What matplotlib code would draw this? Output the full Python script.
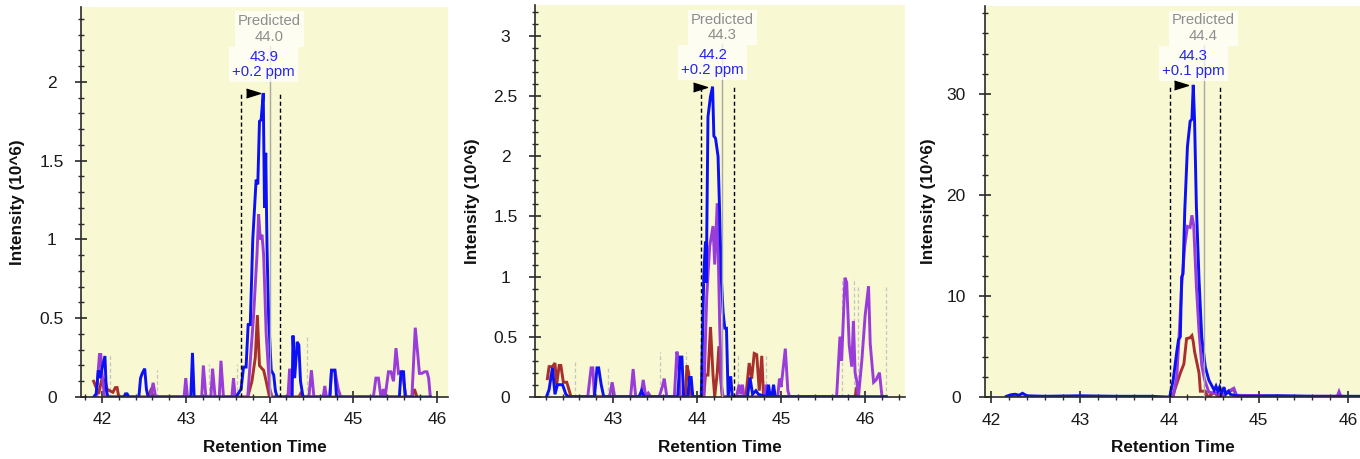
import matplotlib
matplotlib.use('Agg')
import matplotlib.pyplot as plt
from matplotlib.ticker import MultipleLocator
from matplotlib.transforms import blended_transform_factory

plt.rcParams['font.family'] = ['Liberation Sans', 'DejaVu Sans']

# ---------------- data: panel 1 ----------------
p1_blue_x = [41.90, 41.93, 41.956, 41.98, 42.00, 42.035, 42.05, 42.07, 42.26, 42.28, 42.30, 42.32,
             42.44, 42.46, 42.48, 42.51, 42.53, 42.55, 43.06, 43.08, 43.10, 43.60, 43.66, 43.69,
             43.72, 43.745, 43.77, 43.80, 43.84, 43.86, 43.88, 43.90, 43.925, 43.94, 43.955, 43.97,
             43.99, 44.02, 44.05, 44.07, 44.09, 44.27, 44.28, 44.30, 44.33, 44.35, 44.37, 44.40,
             44.72, 44.74, 44.78, 44.80, 45.55, 45.57, 45.60, 45.62, 45.92]
p1_blue_y = [0, 0.02, 0.17, 0.12, 0.18, 0.26, 0.05, 0, 0, 0.02, 0.02, 0,
             0, 0.12, 0.15, 0.18, 0.05, 0, 0, 0.28, 0, 0, 0.05, 0.19,
             0.19, 0.46, 0.46, 1.0, 1.38, 1.35, 1.75, 1.76, 1.93, 1.2, 1.55, 0.95,
             0.5, 0.17, 0.14, 0.04, 0, 0, 0.39, 0.12, 0.35, 0.33, 0.1, 0,
             0, 0.17, 0.17, 0, 0, 0.16, 0.16, 0, 0]
p1_purple_x = [41.93, 41.97, 41.985, 42.0, 42.03, 42.58, 42.61, 42.64, 42.98, 43.0, 43.02, 43.19,
               43.21, 43.24, 43.30, 43.32, 43.35, 43.40, 43.42, 43.45, 43.55, 43.57, 43.59, 43.74,
               43.78, 43.81, 43.85, 43.87, 43.89, 43.91, 43.93, 43.96, 44.0, 44.03, 44.22, 44.24,
               44.26, 44.47, 44.50, 44.53, 44.64, 44.66, 44.68, 44.72, 44.74, 44.78, 44.82, 44.85,
               45.24, 45.27, 45.30, 45.33, 45.36, 45.38, 45.42, 45.45, 45.48, 45.51, 45.54, 45.58,
               45.60, 45.63, 45.70, 45.74, 45.77, 45.79, 45.82, 45.85, 45.88, 45.90, 45.92]
p1_purple_y = [0, 0.27, 0.27, 0.15, 0, 0, 0.09, 0, 0, 0.12, 0, 0,
               0.2, 0, 0, 0.18, 0, 0, 0.23, 0, 0, 0.12, 0, 0,
               0.3, 0.52, 0.9, 1.16, 1.0, 1.03, 0.9, 0.4, 0.06, 0, 0, 0.18,
               0, 0, 0.17, 0, 0, 0.07, 0, 0, 0.17, 0.17, 0.05, 0,
               0, 0.12, 0.12, 0, 0.05, 0, 0.16, 0.16, 0.1, 0.31, 0.15, 0.16,
               0.1, 0, 0, 0.44, 0.27, 0.15, 0.15, 0.16, 0.16, 0.12, 0]
p1_red_x = [41.90, 41.93, 41.96, 42.0, 42.04, 42.06, 42.09, 42.13, 42.16, 42.18, 42.20, 42.55,
            42.58, 42.62, 43.74, 43.79, 43.83, 43.855, 43.88, 43.91, 43.93, 43.96, 44.0, 44.35,
            44.37, 44.39, 45.70, 45.73, 45.76]
p1_red_y = [0.1, 0.06, 0.02, 0.12, 0.1, 0.05, 0.04, 0.03, 0.06, 0.06, 0, 0,
            0.04, 0, 0, 0.1, 0.25, 0.52, 0.2, 0.18, 0.17, 0.1, 0, 0,
            0.02, 0, 0, 0.05, 0]

# ---------------- data: panel 2 ----------------
p2_blue_x = [42.21, 42.24, 42.28, 42.31, 42.34, 42.40, 42.44, 42.47, 42.78, 42.81, 42.83, 42.86,
             42.89, 43.31, 43.34, 43.37, 43.77, 43.80, 43.82, 43.84, 43.89, 43.91, 43.93, 43.95,
             44.05, 44.08, 44.10, 44.11, 44.13, 44.16, 44.185, 44.20, 44.22, 44.25, 44.27, 44.29,
             44.31, 44.33, 44.35, 44.37, 44.40, 44.42, 44.60, 44.63, 44.66, 44.70, 44.73, 44.83,
             44.85, 44.87, 44.89, 44.91, 44.93, 46.25]
p2_blue_y = [0, 0.06, 0.24, 0.02, 0.10, 0.10, 0.02, 0, 0, 0.24, 0.24, 0.10,
             0, 0, 0.05, 0, 0, 0.33, 0.33, 0, 0, 0.16, 0.16, 0,
             0, 1.0, 1.29, 0.95, 2.33, 2.5, 2.58, 2.17, 2.15, 2.0, 1.5, 0.97,
             0.7, 0.57, 0.57, 0, 0.17, 0, 0, 0.16, 0.02, 0.05, 0.02, 0,
             0.1, 0, 0, 0.1, 0, 0]
p2_purple_x = [42.70, 42.74, 42.76, 42.78, 42.96, 42.99, 43.02, 43.21, 43.24, 43.27, 43.33, 43.36,
               43.39, 43.42, 43.45, 43.55, 43.59, 43.61, 43.64, 43.73, 43.76, 43.78, 43.80, 44.08,
               44.115, 44.15, 44.19, 44.21, 44.24, 44.27, 44.29, 44.31, 44.47, 44.50, 44.52, 44.54,
               44.56, 44.80, 44.82, 44.85, 44.96, 44.98, 45.0, 45.05, 45.08, 45.10, 45.66, 45.70,
               45.72, 45.76, 45.78, 45.81, 45.84, 45.86, 45.88, 45.90, 45.92, 45.96, 46.0, 46.04,
               46.06, 46.10, 46.13, 46.17, 46.20, 46.25]
p2_purple_y = [0, 0.24, 0.24, 0, 0, 0.12, 0, 0, 0.23, 0, 0, 0.14,
               0, 0.03, 0, 0, 0.09, 0.15, 0, 0, 0.375, 0.3, 0, 0,
               0.83, 1.25, 1.42, 1.1, 1.61, 0.58, 0.1, 0, 0, 0.1, 0.02, 0.1,
               0, 0, 0.1, 0, 0, 0.15, 0.08, 0.4, 0.05, 0, 0, 0.5,
               0.3, 0.99, 0.95, 0.43, 0.25, 0.63, 0.2, 0.13, 0, 0.3, 0.68, 0.92,
               0.44, 0.12, 0.14, 0.2, 0, 0]
p2_red_x = [42.22, 42.24, 42.28, 42.31, 42.33, 42.36, 42.38, 42.41, 42.45, 42.48, 42.50, 43.86,
            43.88, 43.90, 43.92, 44.08, 44.10, 44.13, 44.16, 44.19, 44.21, 44.24, 44.26, 44.28,
            44.30, 44.58, 44.62, 44.65, 44.68, 44.71, 44.74, 44.77, 44.79, 44.82, 45.88, 45.90,
            45.92]
p2_red_y = [0.15, 0.25, 0.25, 0.28, 0.1, 0.26, 0.26, 0.12, 0.12, 0.05, 0, 0,
            0.26, 0.2, 0, 0, 0.18, 0.18, 0.58, 0.18, 0, 0.2, 0.42, 0.16,
            0, 0, 0.28, 0.15, 0.36, 0.35, 0.05, 0.34, 0.02, 0, 0, 0.08,
            0]

# ---------------- data: panel 3 ----------------
p3_blue_x = [42.17, 42.22, 42.27, 42.31, 42.35, 42.40, 42.60, 43.00, 43.40, 43.80, 44.00, 44.04,
             44.08, 44.10, 44.12, 44.135, 44.15, 44.17, 44.20, 44.23, 44.25, 44.265, 44.28, 44.30,
             44.33, 44.36, 44.40, 44.44, 44.47, 44.50, 44.52, 44.54, 44.56, 44.58, 44.61, 44.63,
             44.66, 44.68, 44.72, 44.80, 45.20, 45.60, 46.00, 46.13]
p3_blue_y = [0.1, 0.25, 0.3, 0.2, 0.4, 0.15, 0.1, 0.15, 0.1, 0.1, 0.0, 1.7,
             4.5, 5.7, 6.0, 11.9, 12.2, 18.5, 24.8, 27.3, 27.5, 30.9, 27.3, 18.9,
             11.6, 6.0, 3.0, 1.7, 1.2, 0.7, 1.1, 0.6, 1.0, 0.4, 1.0, 0.3,
             0.6, 0.3, 0.2, 0.1, 0.15, 0.1, 0.1, 0.1]
p3_purple_x = [42.17, 44.04, 44.08, 44.10, 44.135, 44.17, 44.20, 44.23, 44.25, 44.27, 44.30, 44.33,
               44.36, 44.39, 44.44, 44.60, 44.72, 44.75, 45.50, 45.88, 45.90, 45.92, 46.13]
p3_purple_y = [0, 0, 2.0, 5.0, 11.0, 15.0, 16.9, 16.8, 18.0, 17.0, 11.0, 6.5,
               3.2, 1.8, 0.5, 0.3, 0.9, 0.2, 0.1, 0.1, 0.56, 0.1, 0]
p3_red_x = [42.17, 44.03, 44.12, 44.16, 44.19, 44.23, 44.25, 44.265, 44.28, 44.33, 44.345, 44.40,
            44.43, 44.50, 44.55, 44.72, 44.75, 46.13]
p3_red_y = [0, 0, 2.4, 3.3, 5.8, 5.9, 6.1, 5.5, 4.5, 2.4, 0.6, 0.6,
            0, 0.5, 0, 0.8, 0, 0]

# ---------------- annotations ----------------
predicted_rt = [44.0, 44.3, 44.38]
predicted_txt = ['44.0', '44.3', '44.4']
observed_rt = [43.93, 44.185, 44.265]
observed_txt = ['43.9', '44.2', '44.3']
ppm_txt = ['+0.2 ppm', '+0.2 ppm', '+0.1 ppm']
peak_start = [43.66, 44.045, 44.0]
peak_end = [44.125, 44.44, 44.57]
apex_height = [1.93, 2.58, 30.9]
flag_x = [43.80, 44.04, 44.13]
minor_bounds = [
    [(41.95, 0.27), (42.10, 0.27), (42.66, 0.17), (43.28, 0.21), (43.61, 0.21), (44.45, 0.39)],
    [(42.24, 0.27), (42.55, 0.30), (42.94, 0.24), (43.56, 0.37), (43.87, 0.37), (44.49, 0.35),
     (44.82, 0.36), (45.73, 0.99), (45.87, 0.99), (45.92, 0.92), (46.25, 0.92)],
    [],
]

xlims = [(41.749, 46.131), (42.069, 46.47), (41.933, 46.135)]
ylims = [(0, 2.476), (0, 3.26), (0, 38.7)]
y_major = [0.5, 0.5, 10]
y_minor = [0.1, 0.1, 2]
y_ticklabels = [['0', '0.5', '1', '1.5', '2'],
                ['0', '0.5', '1', '1.5', '2', '2.5', '3'],
                ['0', '10', '20', '30']]

traces = [
    [(p1_red_x, p1_red_y), (p1_purple_x, p1_purple_y), (p1_blue_x, p1_blue_y)],
    [(p2_red_x, p2_red_y), (p2_purple_x, p2_purple_y), (p2_blue_x, p2_blue_y)],
    [(p3_red_x, p3_red_y), (p3_purple_x, p3_purple_y), (p3_blue_x, p3_blue_y)],
]

BLUE = '#0C10F4'
PURPLE = '#9A3CDA'
RED = '#A8302C'
BG = '#F8F8D2'
AXC = '#2a2a2a'
colors = [RED, PURPLE, BLUE]

W, H = 1360, 459
fig = plt.figure(figsize=(W / 100, H / 100), dpi=100)
boxes = [(81, 448, 7, 397), (534.7, 904.7, 5, 396.7), (985.3, 1360, 6, 397.3)]

for i, (l, r, t, b) in enumerate(boxes):
    ax = fig.add_axes([l / W, 1 - b / H, (r - l) / W, (b - t) / H])
    ax.set_facecolor(BG)
    ax.set_xlim(*xlims[i])
    ax.set_ylim(*ylims[i])
    for s in ['top', 'right']:
        ax.spines[s].set_visible(False)
    for s in ['left', 'bottom']:
        ax.spines[s].set_color(AXC)
        ax.spines[s].set_linewidth(1.2)

    # ticks
    ax.xaxis.set_major_locator(MultipleLocator(1))
    ax.xaxis.set_minor_locator(MultipleLocator(0.2))
    ax.yaxis.set_major_locator(MultipleLocator(y_major[i]))
    ax.yaxis.set_minor_locator(MultipleLocator(y_minor[i]))
    ax.tick_params(which='major', direction='inout', length=9, width=1.2, color=AXC,
                   labelsize=12.5, labelcolor='#1a1a1a')
    ax.tick_params(which='minor', direction='inout', length=5, width=1.0, color=AXC)
    ax.tick_params(axis='x', which='major', pad=6.5)
    ax.tick_params(axis='y', which='major', pad=16.5)
    yt = [k * y_major[i] for k in range(len(y_ticklabels[i]))]
    ax.set_yticks(yt)
    ax.set_yticklabels(y_ticklabels[i])
    for lbl in ax.get_yticklabels():
        lbl.set_ha('center')

    ax.set_xlabel('Retention Time', fontsize=12.3, fontweight='bold', color='#111111', va='center')
    ax.xaxis.set_label_coords(0.5, -(448 - b) / (b - t))
    ax.set_ylabel('Intensity (10^6)', fontsize=12.3, fontweight='bold', color='#111111', va='center')
    ylab_x = [18, 473, 928][i]
    ax.yaxis.set_label_coords(-(l - ylab_x) / (r - l), 0.5)

    # faint boundary markers for minor peaks
    for bx, btop in minor_bounds[i]:
        ax.plot([bx, bx], [0, btop], color='#C4C4C4', lw=0.9, ls=(0, (3, 2)), zorder=1)

    # traces
    for (tx, ty), c in zip(traces[i], colors):
        ax.plot(tx, ty, color=c, lw=2.1, solid_joinstyle='miter', zorder=2)

    # integration boundaries
    for bx in (peak_start[i], peak_end[i]):
        ax.plot([bx, bx], [0, apex_height[i]], color='black', lw=1.0, ls=(0, (3, 2)), zorder=3)

    # predicted RT line
    ax.axvline(predicted_rt[i], ymin=0, ymax=0.9, color='#A8A8A8', lw=1.0, zorder=3)

    trans = blended_transform_factory(ax.transData, ax.transAxes)
    ax.text(predicted_rt[i], 0.943, 'Predicted\n' + predicted_txt[i], transform=trans,
            ha='center', va='center', fontsize=10.7, color='#8E8E8E', linespacing=1.15,
            zorder=5, bbox=dict(boxstyle='square,pad=0.2', fc=(1, 1, 1, 0.72), ec='none'))
    ax.text(observed_rt[i], 0.853, observed_txt[i] + '\n' + ppm_txt[i], transform=trans,
            ha='center', va='center', fontsize=10.7, color='#2424F0', linespacing=1.15,
            zorder=5, bbox=dict(boxstyle='square,pad=0.2', fc=(1, 1, 1, 0.72), ec='none'))

    # flag marker at apex
    ax.plot([flag_x[i]], [apex_height[i]], marker=[(-1, 0.62), (1, 0), (-1, -0.62)],
            ms=10, color='black', ls='none', zorder=6, clip_on=False)

fig.savefig('out.png', dpi=100)
